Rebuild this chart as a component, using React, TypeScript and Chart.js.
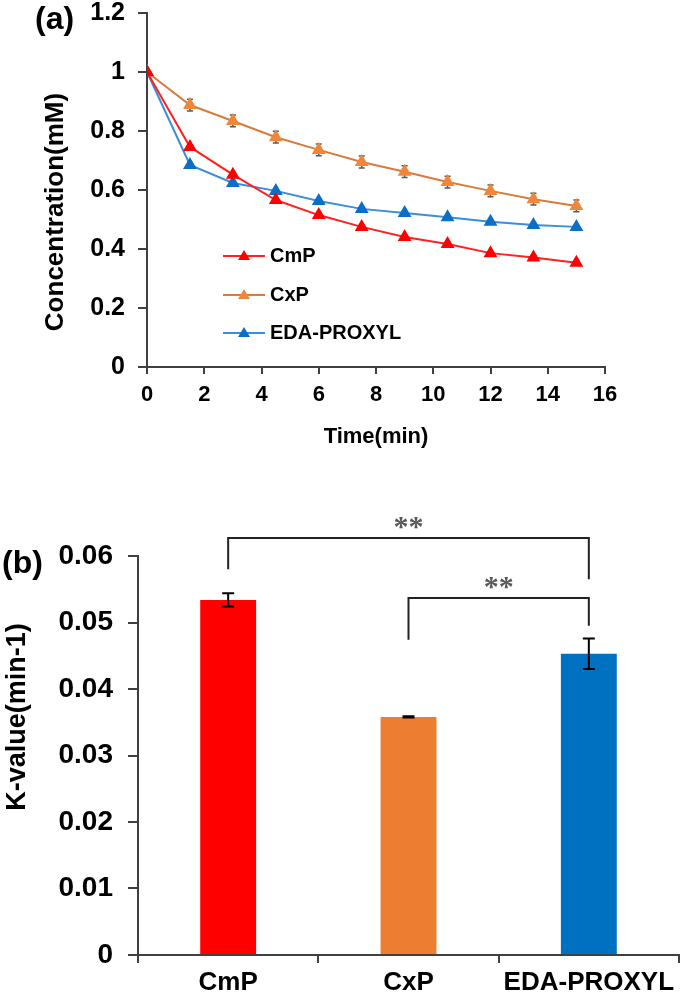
import React, { useEffect, useRef } from "react";
import { Chart, registerables } from "chart.js";
Chart.register(...registerables);

const FONT = '"Liberation Sans", Arial, Helvetica, sans-serif';

// ---- Panel (a) data ----
const timeMin = [0, 1.5, 3, 4.5, 6, 7.5, 9, 10.5, 12, 13.5, 15];
const cmpConc = [1, 0.746, 0.652, 0.566, 0.515, 0.475, 0.441, 0.417, 0.386, 0.371, 0.353];
const cxpConc = [1, 0.888, 0.834, 0.779, 0.736, 0.695, 0.662, 0.627, 0.597, 0.569, 0.546];
const edaConc = [1, 0.685, 0.624, 0.597, 0.563, 0.536, 0.522, 0.508, 0.492, 0.481, 0.475];
const cmpErr = [0, 0.006, 0.006, 0.005, 0.005, 0.005, 0.005, 0.005, 0.005, 0.005, 0.005];
const cxpErr = [0, 0.02, 0.02, 0.02, 0.02, 0.02, 0.02, 0.02, 0.02, 0.02, 0.02];
const edaErr = [0, 0.006, 0.006, 0.005, 0.005, 0.005, 0.005, 0.005, 0.005, 0.005, 0.005];
const seriesNames = ["CmP", "CxP", "EDA-PROXYL"];
const concAxisTitle = "Concentration(mM)";
const timeAxisTitle = "Time(min)";

// ---- Panel (b) data ----
const kCategories = ["CmP", "CxP", "EDA-PROXYL"];
const kValues = [0.0534, 0.0358, 0.0453];
const kErrors = [0.001, 0.0001, 0.0023];
const kAxisTitle = "K-value(min-1)";
// significance brackets: [fromIndex, toIndex, barLevel, leftLegEnd, rightLegEnd, starLevel]
const brackets = [
  [0, 2, 0.0627, 0.058, 0.0565, 0.0652],
  [1, 2, 0.0537, 0.0474, 0.0495, 0.0562],
];
const sigLabel = "**";

const fmt = (v: number) => String(Number(v.toFixed(3)));

const yTitlePlugin = {
  id: "yTitle",
  afterDraw(chart: any, _args: any, opts: any) {
    const ctx = chart.ctx;
    ctx.save();
    ctx.translate(opts.x, opts.y);
    ctx.rotate(-Math.PI / 2);
    ctx.fillStyle = "#000";
    ctx.font = `bold ${opts.size}px ${FONT}`;
    ctx.textAlign = "center";
    ctx.textBaseline = "middle";
    ctx.fillText(opts.text, 0, 0);
    ctx.restore();
  },
};

const lineErrPlugin = {
  id: "lineErr",
  beforeDatasetsDraw(chart: any) {
    const errs = [cmpErr, cxpErr, edaErr];
    const ctx = chart.ctx;
    const ys = chart.scales.y;
    ctx.save();
    ctx.strokeStyle = "#595959";
    ctx.lineWidth = 1.5;
    chart.data.datasets.forEach((ds: any, i: number) => {
      const meta = chart.getDatasetMeta(i);
      meta.data.forEach((pt: any, j: number) => {
        const v = ds.data[j].y;
        const e = errs[i][j];
        if (!e) return;
        const y1 = ys.getPixelForValue(v + e);
        const y2 = ys.getPixelForValue(v - e);
        ctx.beginPath();
        ctx.moveTo(pt.x, y1);
        ctx.lineTo(pt.x, y2);
        ctx.moveTo(pt.x - 3, y1);
        ctx.lineTo(pt.x + 3, y1);
        ctx.moveTo(pt.x - 3, y2);
        ctx.lineTo(pt.x + 3, y2);
        ctx.stroke();
      });
    });
    ctx.restore();
  },
};

const customLegendPlugin = {
  id: "customLegend",
  afterDraw(chart: any) {
    const ctx = chart.ctx;
    const ca = chart.chartArea;
    const x0 = ca.left + 76;
    const yOff = [243, 282, 320];
    ctx.save();
    chart.data.datasets.forEach((ds: any, i: number) => {
      const y = ca.top + yOff[i];
      ctx.strokeStyle = ds.borderColor;
      ctx.lineWidth = 2;
      ctx.beginPath();
      ctx.moveTo(x0, y);
      ctx.lineTo(x0 + 42, y);
      ctx.stroke();
      ctx.fillStyle = ds.pointBackgroundColor;
      ctx.beginPath();
      ctx.moveTo(x0 + 21, y - 6);
      ctx.lineTo(x0 + 27, y + 4);
      ctx.lineTo(x0 + 15, y + 4);
      ctx.closePath();
      ctx.fill();
      ctx.fillStyle = "#000";
      ctx.font = `bold 20px ${FONT}`;
      ctx.textBaseline = "middle";
      ctx.textAlign = "left";
      ctx.fillText(ds.label, x0 + 47, y);
    });
    ctx.restore();
  },
};

const barErrPlugin = {
  id: "barErr",
  afterDatasetsDraw(chart: any) {
    const ctx = chart.ctx;
    const ys = chart.scales.y;
    const meta = chart.getDatasetMeta(0);
    ctx.save();
    ctx.strokeStyle = "#000";
    ctx.lineWidth = 2;
    meta.data.forEach((bar: any, j: number) => {
      const v = kValues[j];
      const e = kErrors[j];
      const y1 = ys.getPixelForValue(v + e);
      const y2 = ys.getPixelForValue(v - e);
      ctx.beginPath();
      ctx.moveTo(bar.x, y1);
      ctx.lineTo(bar.x, y2);
      ctx.moveTo(bar.x - 6, y1);
      ctx.lineTo(bar.x + 6, y1);
      ctx.moveTo(bar.x - 6, y2);
      ctx.lineTo(bar.x + 6, y2);
      ctx.stroke();
    });
    // brackets
    ctx.strokeStyle = "#222";
    ctx.lineWidth = 2;
    brackets.forEach((b) => {
      const [a, c, lvl, lEnd, rEnd, star] = b;
      const xa = meta.data[a].x;
      const xc = meta.data[c].x;
      const yl = ys.getPixelForValue(lvl);
      ctx.beginPath();
      ctx.moveTo(xa, ys.getPixelForValue(lEnd));
      ctx.lineTo(xa, yl);
      ctx.lineTo(xc, yl);
      ctx.lineTo(xc, ys.getPixelForValue(rEnd));
      ctx.stroke();
      ctx.fillStyle = "#595959";
      ctx.font = `bold 30px "Liberation Serif", "Times New Roman", serif`;
      ctx.textAlign = "center";
      ctx.textBaseline = "middle";
      ctx.fillText(sigLabel, (xa + xc) / 2, ys.getPixelForValue(star) + 7);
    });
    ctx.restore();
  },
};

function ConcChart() {
  const ref = useRef<HTMLCanvasElement>(null);
  useEffect(() => {
    const mk = (vals: number[]) => timeMin.map((t, i) => ({ x: t, y: vals[i] }));
    const chart = new Chart(ref.current!, {
      type: "line",
      data: {
        datasets: [
          {
            label: seriesNames[0],
            data: mk(cmpConc),
            borderColor: "#FF2020",
            backgroundColor: "#FF0000",
            pointBackgroundColor: "#FF0000",
            pointBorderColor: "#FF0000",
            pointStyle: "triangle",
            pointRadius: 6,
            borderWidth: 2,
          },
          {
            label: seriesNames[1],
            data: mk(cxpConc),
            borderColor: "#D97B3A",
            backgroundColor: "#F0863A",
            pointBackgroundColor: "#F0863A",
            pointBorderColor: "#F0863A",
            pointStyle: "triangle",
            pointRadius: 6,
            borderWidth: 2,
          },
          {
            label: seriesNames[2],
            data: mk(edaConc),
            borderColor: "#3A8EDB",
            backgroundColor: "#0B6FC7",
            pointBackgroundColor: "#0B6FC7",
            pointBorderColor: "#0B6FC7",
            pointStyle: "triangle",
            pointRadius: 6,
            borderWidth: 2,
          },
        ],
      },
      options: {
        responsive: false,
        animation: false,
        layout: { padding: { left: 0, right: 80, top: 1, bottom: 0 } },
        plugins: {
          legend: { display: false },
          tooltip: { enabled: false },
          yTitle: { text: concAxisTitle, x: 56, y: 212, size: 26 },
        },
        scales: {
          x: {
            type: "linear",
            min: 0,
            max: 16,
            ticks: { stepSize: 2, color: "#000", font: { family: FONT, size: 22, weight: "bold" }, padding: 8, maxRotation: 0 },
            grid: { drawOnChartArea: false, drawTicks: true, tickLength: 7, color: "#404040", lineWidth: 2 },
            border: { display: true, color: "#404040", width: 2 },
            title: { display: true, text: timeAxisTitle, color: "#000", font: { family: FONT, size: 22, weight: "bold" }, padding: { top: 0, bottom: 20 } },
            afterFit: (s: any) => { s.height = 103; },
          },
          y: {
            type: "linear",
            min: 0,
            max: 1.2,
            ticks: { stepSize: 0.2, color: "#000", font: { family: FONT, size: 25, weight: "bold", lineHeight: 1 }, padding: 13, callback: (v: any) => fmt(Number(v)) },
            grid: { drawOnChartArea: false, drawTicks: true, tickLength: 9, color: "#404040", lineWidth: 2 },
            border: { display: true, color: "#404040", width: 2 },
            afterFit: (s: any) => { s.width = 147; s.paddingTop = 13; s.paddingBottom = 0; },
          },
        },
      },
      plugins: [lineErrPlugin, customLegendPlugin, yTitlePlugin],
    } as any);
    return () => chart.destroy();
  }, []);
  return <canvas ref={ref} width={685} height={470} style={{ width: 685, height: 470, display: "block" }} />;
}

function KChart() {
  const ref = useRef<HTMLCanvasElement>(null);
  useEffect(() => {
    const chart = new Chart(ref.current!, {
      type: "bar",
      data: {
        labels: kCategories,
        datasets: [
          {
            data: kValues,
            backgroundColor: ["#FF0000", "#ED7D31", "#0070C0"],
            borderWidth: 0,
            barPercentage: 0.31,
            categoryPercentage: 1,
          },
        ],
      },
      options: {
        responsive: false,
        animation: false,
        layout: { padding: { left: 0, right: 6, top: 86, bottom: 0 } },
        plugins: {
          legend: { display: false },
          tooltip: { enabled: false },
          yTitle: { text: kAxisTitle, x: 18, y: 247, size: 27 },
        },
        scales: {
          x: {
            offset: true,
            ticks: { color: "#000", font: { family: FONT, size: 26, weight: "bold" }, padding: 4, maxRotation: 0 },
            grid: { offset: true, drawOnChartArea: false, drawTicks: true, tickLength: 8, color: "#404040", lineWidth: 2 },
            border: { display: true, color: "#404040", width: 2 },
            afterFit: (s: any) => { s.height = 45; },
          },
          y: {
            min: 0,
            max: 0.06,
            ticks: { stepSize: 0.01, color: "#000", font: { family: FONT, size: 28, weight: "bold", lineHeight: 1 }, padding: 15, callback: (v: any) => fmt(Number(v)) },
            grid: { drawOnChartArea: false, drawTicks: true, tickLength: 10, color: "#404040", lineWidth: 2 },
            border: { display: true, color: "#404040", width: 2 },
            afterFit: (s: any) => { s.width = 138; },
          },
        },
      },
      plugins: [barErrPlugin, yTitlePlugin],
    } as any);
    return () => chart.destroy();
  }, []);
  return <canvas ref={ref} width={685} height={530} style={{ width: 685, height: 530, display: "block" }} />;
}

export default function App() {
  const lab: React.CSSProperties = {
    position: "absolute",
    fontFamily: FONT,
    fontWeight: "bold",
    fontSize: 32,
    lineHeight: "36px",
    color: "#000",
    whiteSpace: "nowrap",
  };
  return (
    <div style={{ position: "absolute", left: 0, top: 0, width: 685, height: 1000, background: "#fff", overflow: "hidden" }}>
      <div style={{ position: "absolute", left: 0, top: 0 }}>
        <ConcChart />
      </div>
      <div style={{ position: "absolute", left: 0, top: 470 }}>
        <KChart />
      </div>
      <div style={{ ...lab, left: 35, top: 0 }}>(a)</div>
      <div style={{ ...lab, left: 2, top: 544 }}>(b)</div>
    </div>
  );
}
